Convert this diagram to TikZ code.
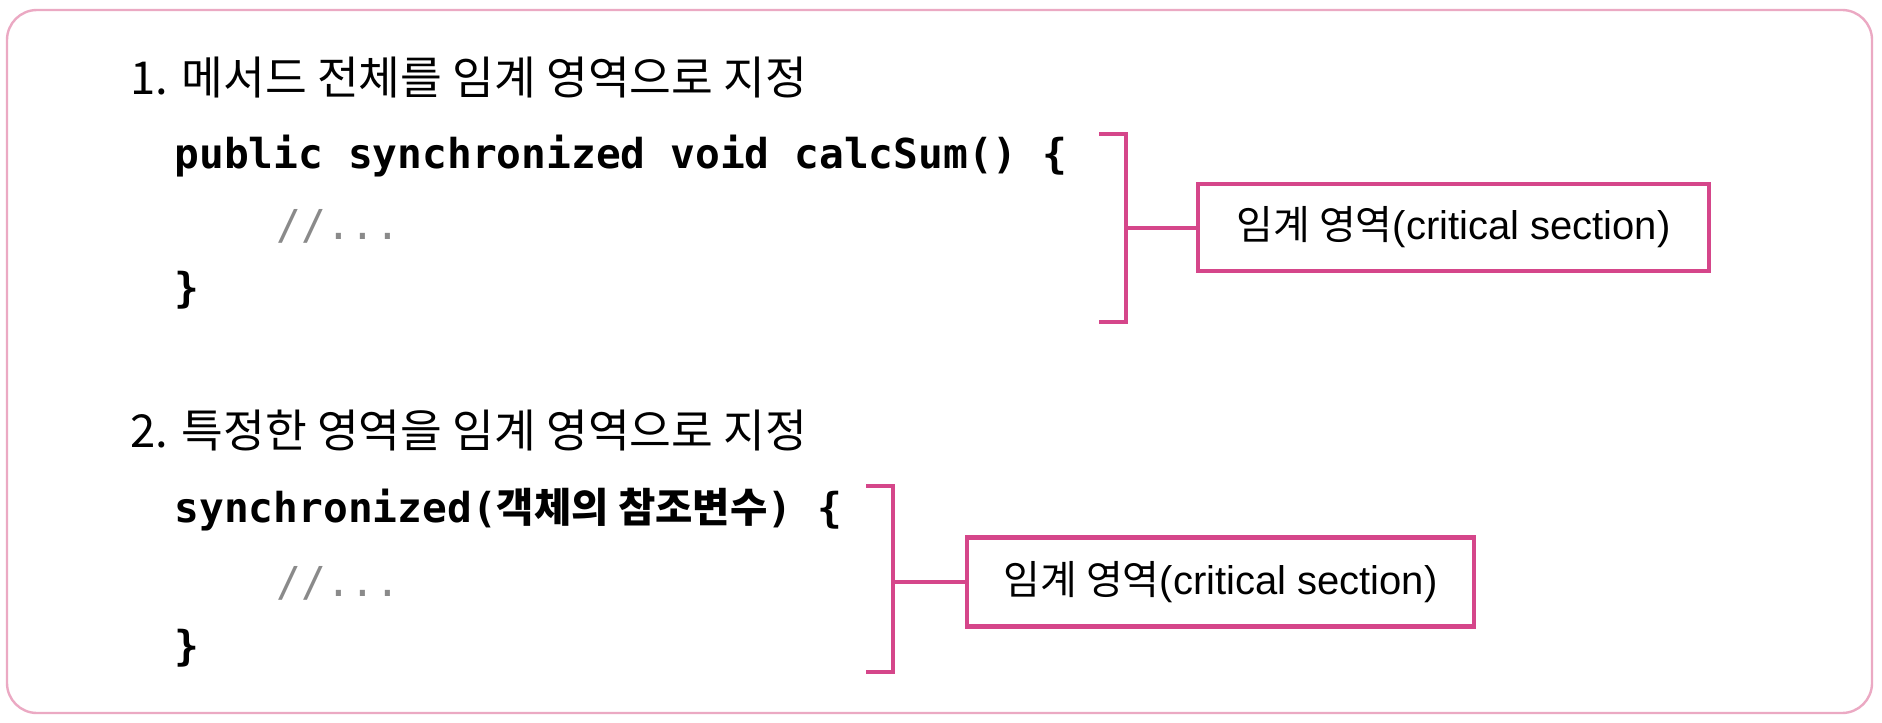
\documentclass[tikz,border=0pt]{standalone}
\usepackage{fontspec}
\setmainfont{Liberation Sans}
\setmonofont{DejaVu Sans Mono}
\newfontfamily\kr{Noto Sans CJK KR}
\newfontfamily\lat{Liberation Sans}
\definecolor{pinkline}{HTML}{D5468A}
\definecolor{pinkouter}{HTML}{EBA9C3}
\definecolor{cmtgray}{HTML}{8A8A8A}
\tikzset{
  outerbox/.style={draw=pinkouter, line width=1.2pt, rounded corners=15pt},
  titletext/.style={anchor=west, inner sep=0pt, font=\kr\fontsize{22.7}{26}\selectfont},
  codetext/.style={anchor=west, inner sep=0pt, font=\ttfamily\bfseries\fontsize{20.6}{24}\selectfont},
  cmttext/.style={anchor=west, inner sep=0pt, text=cmtgray, font=\ttfamily\fontsize{20.6}{24}\selectfont},
  labelbox/.style={draw=pinkline, line width=2.2pt, inner sep=0pt, align=center, font=\fontsize{20}{24}\selectfont},
  brk/.style={draw=pinkline, line width=2pt},
}
\begin{document}
\begin{tikzpicture}[x=0.5pt,y=-0.5pt]
\useasboundingbox (0,0) rectangle (1882,722);
\draw[outerbox] (7,10) rectangle (1872,713);

% Section 1
\node[titletext] (t1) at (130,78) {1. 메서드 전체를 임계 영역으로 지정};
\node[codetext] (c1) at (174,156) {public synchronized void calcSum() \{};
\node[cmttext] (m1) at (276,226) {//...};
\node[codetext] (e1) at (174,290) {\}};
\node[labelbox, minimum width=255.5pt, minimum height=43.5pt] (box1) at (1453.5,227.5)
  {{\kr 임계 영역}{\lat (critical section)}};
\coordinate (b1t) at (1099,134);
\coordinate (b1tr) at (1126,134);
\coordinate (b1br) at (1126,322);
\coordinate (b1b) at (1099,322);
\coordinate (k1) at (1126,227.5);
\draw[brk] (b1t) -- (b1tr) -- (b1br) -- (b1b);
\draw[brk] (k1) -- (box1.west);

% Section 2
\node[titletext] (t2) at (130,430) {2. 특정한 영역을 임계 영역으로 지정};
\node[codetext] (c2) at (174,510) {synchronized({\kr\fontsize{20.3}{24}\selectfont 객체의 참조변수}) \{};
\node[cmttext] (m2) at (276,583) {//...};
\node[codetext] (e2) at (174,648) {\}};
\node[labelbox, minimum width=253.5pt, minimum height=44.5pt] (box2) at (1220.5,582)
  {{\kr 임계 영역}{\lat (critical section)}};
\coordinate (b2t) at (866,486);
\coordinate (b2tr) at (893,486);
\coordinate (b2br) at (893,672);
\coordinate (b2b) at (866,672);
\coordinate (k2) at (893,582);
\draw[brk] (b2t) -- (b2tr) -- (b2br) -- (b2b);
\draw[brk] (k2) -- (box2.west);
\end{tikzpicture}
\end{document}
